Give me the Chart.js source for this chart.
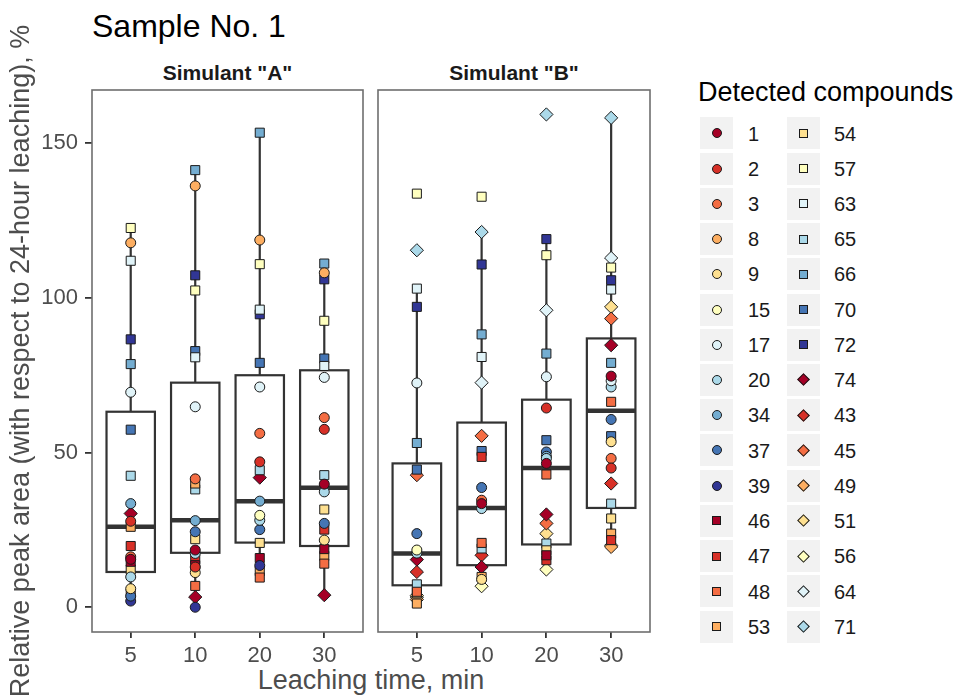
<!DOCTYPE html>
<html>
<head>
<meta charset="utf-8">
<script src="https://cdn.jsdelivr.net/npm/chart.js@4.4.1/dist/chart.umd.min.js"></script>
<style>
  body { margin: 0; background: #fff; font-family: "Liberation Sans", Arial, sans-serif; }
  #wrap { position: relative; width: 958px; height: 697px; overflow: hidden; }
  #wrap canvas { position: absolute; top: 0; }
  .txt { position: absolute; line-height: 1; white-space: nowrap; }
  .strip { font-weight: bold; font-size: 21px; color: #1a1a1a; text-align: center; }
  .key { position: absolute; width: 33px; height: 32px; background: #f2f2f2; }
  .mk { position: absolute; box-sizing: border-box; border: 1px solid #1a1a1a; }
  .lab { position: absolute; font-size: 20px; line-height: 1; color: #1a1a1a; }
</style>
</head>
<body>
<div id="wrap">
  <div class="txt" style="left:92px; top:10px; font-size:32px; color:#000;">Sample No. 1</div>
  <div class="txt strip" style="left:92px; top:61.5px; width:271px;">Simulant "A"</div>
  <div class="txt strip" style="left:378px; top:61.5px; width:272px;">Simulant "B"</div>
  <div class="txt" style="left:92px; width:558px; top:667px; font-size:27px; color:#4d4d4d; text-align:center;">Leaching time, min</div>
  <div class="txt" style="left:698px; top:79px; font-size:27px; color:#000;">Detected compounds</div>
  <canvas id="panelA" width="365" height="697" style="left:0"></canvas>
  <canvas id="panelB" width="276" height="697" style="left:376px"></canvas>
  <div id="legend"></div>
</div>
<script>
// Leaching times (x categories)
const times = ['5', '10', '20', '30'];

// Compounds, in legend order
const compounds = ['1', '2', '3', '8', '9', '15', '17', '20', '34', '37', '39',
                   '46', '47', '48', '53', '54', '57', '63', '65', '66', '70', '72',
                   '74', '43', '45', '49', '51', '56', '64', '71'];
const shapes = ['circle', 'circle', 'circle', 'circle', 'circle', 'circle', 'circle', 'circle', 'circle', 'circle', 'circle',
                'rect', 'rect', 'rect', 'rect', 'rect', 'rect', 'rect', 'rect', 'rect', 'rect', 'rect',
                'rectRot', 'rectRot', 'rectRot', 'rectRot', 'rectRot', 'rectRot', 'rectRot', 'rectRot'];
const palette = ['#a50026', '#d73027', '#f46d43', '#fdae61', '#fee090', '#ffffbf',
                 '#e0f3f8', '#abd9e9', '#74add1', '#4575b4', '#313695'];
const colors = compounds.map((c, i) => palette[i < 11 ? i : i < 22 ? i - 11 : i - 22]);

// Relative peak area (%) per compound, one array per simulant / time
const a5  = [15.5, 27.8, 16.3, 117.8, 6.0, null, 69.5, 9.8, 33.5, 3.6, 2.0,
             14.7, 19.8, 4.4, 26.0, 12.2, 122.6, 112.0, 42.5, 78.6, 57.4, 86.6,
             30.3, null, null, null, null, null, null, null];
const a10 = [18.5, 13.0, 41.5, 136.2, 11.2, null, 64.8, 17.4, 28.0, 24.4, 0.0,
             13.6, 15.5, 6.9, 40.0, 22.0, 102.4, 80.8, 38.1, 141.3, 82.8, 107.3,
             3.3, null, null, null, null, null, null, null];
const a20 = [null, 47.0, 56.2, 118.7, null, 29.7, 71.2, 28.1, 34.3, 25.1, 13.5,
             15.9, null, 9.6, 11.7, 20.8, 110.9, 96.2, 44.3, 153.4, 79.0, 94.7,
             41.9, null, null, null, null, null, null, null];
const a30 = [39.8, 57.5, 61.3, 108.1, 21.7, null, 74.3, 37.3, null, 27.1, null,
             18.8, 25.1, 14.1, 16.6, 31.6, 92.6, 78.0, 42.7, 111.1, 80.4, 106.0,
             3.9, null, null, null, null, null, null, null];
const b5  = [null, null, null, null, null, 18.5, 72.5, 17.5, null, 23.8, null,
             null, null, 5.0, 1.2, 4.5, 133.7, 103.0, 7.4, 53.1, 44.5, 97.1,
             15.4, 11.4, 42.7, 2.5, 3.8, 3.3, null, 115.4];
const b10 = [33.5, null, 34.6, null, 9.0, null, null, 31.9, null, 38.7, null,
             null, 48.6, 20.8, 9.8, null, 132.7, 80.9, 19.0, 88.2, 50.5, 110.8,
             13.0, 16.8, 55.4, null, null, 6.8, 72.6, 121.3];
const b20 = [46.5, 64.4, null, null, null, null, 74.5, 48.1, 48.8, 50.2, null,
             16.8, 15.2, 42.9, null, 18.4, 113.8, null, 20.6, 82.0, 54.0, 119.0,
             30.0, null, 27.1, null, 23.8, 12.2, 96.0, 159.3];
const b30 = [74.7, 45.0, 48.1, null, 53.5, null, 73.2, 71.2, null, 60.7, null,
             null, 21.7, 66.4, 23.8, 28.7, 109.8, 102.7, 33.5, 79.0, 55.3, 105.7,
             84.7, 40.0, 93.3, 19.5, 97.1, 20.0, 112.9, 158.2];

// Box statistics per time: lower whisker, Q1, median, Q3, upper whisker
const boxA = {
  lo:  [2.0, 0.0, 9.6, 3.9],
  q1:  [11.4, 17.6, 20.9, 19.8],
  med: [26.0, 28.1, 34.3, 38.6],
  q3:  [63.2, 72.6, 75.0, 76.6],
  hi:  [122.6, 141.3, 153.4, 111.1]
};
const boxB = {
  lo:  [1.2, 6.8, 12.2, 19.5],
  q1:  [7.1, 13.6, 20.3, 32.1],
  med: [17.4, 32.1, 45.0, 63.5],
  q3:  [46.5, 59.7, 67.1, 86.9],
  hi:  [103.0, 121.3, 119.0, 158.2]
};

const yTicks = [0, 50, 100, 150];
const radius = { circle: 5, rect: 6.4, rectRot: 6.6 };

// boxplots behind the points, panel frame on top
const boxPlugin = {
  id: 'boxes',
  beforeDatasetsDraw(chart, args, opts) {
    const { ctx, scales: { x, y } } = chart;
    const b = opts.stats;
    ctx.save();
    ctx.strokeStyle = '#333333';
    for (let i = 0; i < times.length; i++) {
      const xc = x.getPixelForValue(i + 1);
      const hw = x.getPixelForValue(i + 1 + 0.375) - xc;
      ctx.lineWidth = 2.2;
      ctx.beginPath();
      ctx.moveTo(xc, y.getPixelForValue(b.q3[i]));
      ctx.lineTo(xc, y.getPixelForValue(b.hi[i]));
      ctx.moveTo(xc, y.getPixelForValue(b.q1[i]));
      ctx.lineTo(xc, y.getPixelForValue(b.lo[i]));
      ctx.stroke();
      const top = y.getPixelForValue(b.q3[i]);
      const bot = y.getPixelForValue(b.q1[i]);
      ctx.fillStyle = '#ffffff';
      ctx.fillRect(xc - hw, top, hw * 2, bot - top);
      ctx.strokeRect(xc - hw, top, hw * 2, bot - top);
      const ym = y.getPixelForValue(b.med[i]);
      ctx.lineWidth = 4.5;
      ctx.beginPath();
      ctx.moveTo(xc - hw, ym);
      ctx.lineTo(xc + hw, ym);
      ctx.stroke();
    }
    ctx.restore();
  },
  afterDraw(chart) {
    const { ctx, chartArea: a } = chart;
    ctx.save();
    ctx.strokeStyle = '#6e6e6e';
    ctx.lineWidth = 1.6;
    ctx.strokeRect(a.left, a.top, a.right - a.left, a.bottom - a.top);
    ctx.restore();
  }
};

function makePanel(id, groups, stats, showY) {
  const datasets = compounds.map((c, k) => ({
    label: c,
    data: groups.map((g, i) => g[k] == null ? null : { x: i + 1, y: g[k] }).filter(p => p),
    pointStyle: shapes[k],
    pointRadius: radius[shapes[k]],
    backgroundColor: colors[k],
    borderColor: '#1a1a1a',
    borderWidth: 1
  }));

  return new Chart(document.getElementById(id).getContext('2d'), {
    type: 'scatter',
    data: { datasets: datasets },
    plugins: [boxPlugin],
    options: {
      responsive: false,
      animation: false,
      layout: { autoPadding: false, padding: { top: 90, left: showY ? 0 : 2, right: 2, bottom: 0 } },
      plugins: {
        legend: { display: false },
        tooltip: { enabled: false },
        boxes: { stats: stats }
      },
      scales: {
        x: {
          type: 'linear',
          min: 0.4,
          max: 4.6,
          afterBuildTicks: s => { s.ticks = times.map((t, i) => ({ value: i + 1 })); },
          afterFit: s => { s.height = 65; s.paddingLeft = 0; s.paddingRight = 0; },
          ticks: {
            callback: v => times[v - 1],
            color: '#4d4d4d',
            font: { family: 'Liberation Sans, Arial', size: 22 },
            padding: 5,
            maxRotation: 0
          },
          grid: { drawOnChartArea: false, tickLength: 6, color: '#333333', lineWidth: 1.8 },
          border: { display: false }
        },
        y: {
          display: showY,
          min: -8,
          max: 167.2,
          afterBuildTicks: s => { s.ticks = yTicks.map(v => ({ value: v })); },
          afterFit: s => { s.width = showY ? 92 : 0; },
          ticks: {
            color: '#4d4d4d',
            font: { family: 'Liberation Sans, Arial', size: 22 },
            padding: 7
          },
          grid: { drawOnChartArea: false, tickLength: 7, color: '#333333', lineWidth: 1.8 },
          border: { display: false },
          title: {
            display: true,
            text: 'Relative peak area (with respect to 24-hour leaching), %',
            color: '#4d4d4d',
            font: { family: 'Liberation Sans, Arial', size: 27 },
            padding: { top: 5, bottom: 0 }
          }
        }
      }
    }
  });
}

makePanel('panelA', [a5, a10, a20, a30], boxA, true);
makePanel('panelB', [b5, b10, b20, b30], boxB, false);

// legend: two columns of keys on grey tiles
const legend = document.getElementById('legend');
compounds.forEach((c, k) => {
  const col = k < 15 ? 0 : 1;
  const row = k % 15;
  const cy = 133.3 + row * 35.24;
  const kx = col === 0 ? 700 : 787;
  const key = document.createElement('div');
  key.className = 'key';
  key.style.left = kx + 'px';
  key.style.top = (cy - 16) + 'px';
  legend.appendChild(key);

  const m = document.createElement('div');
  m.className = 'mk';
  m.style.background = colors[k];
  const size = shapes[k] === 'rectRot' ? 9 : 10;
  m.style.width = size + 'px';
  m.style.height = size + 'px';
  m.style.left = (kx + 16.5 - size / 2) + 'px';
  m.style.top = (cy - size / 2) + 'px';
  if (shapes[k] === 'circle') m.style.borderRadius = '50%';
  if (shapes[k] === 'rectRot') m.style.transform = 'rotate(45deg)';
  if (shapes[k] === 'rect') { m.style.width = '9px'; m.style.height = '9px'; m.style.left = (kx + 12) + 'px'; m.style.top = (cy - 4.5) + 'px'; }
  legend.appendChild(m);

  const lab = document.createElement('div');
  lab.className = 'lab';
  lab.textContent = c;
  lab.style.left = (col === 0 ? 748 : 834) + 'px';
  lab.style.top = (cy - 9.8) + 'px';
  legend.appendChild(lab);
});
</script>
</body>
</html>
